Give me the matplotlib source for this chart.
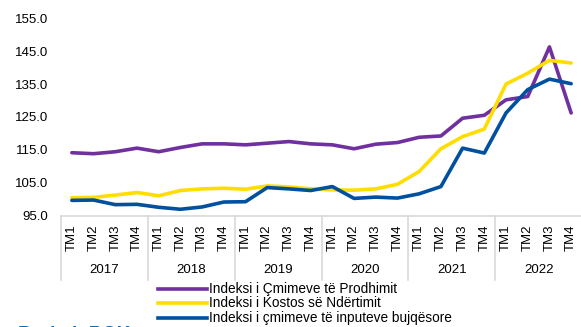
import numpy as np
import matplotlib
matplotlib.use("Agg")
import matplotlib.pyplot as plt
import matplotlib.transforms as mtransforms
from matplotlib.lines import Line2D

plt.rcParams["font.family"] = ["Liberation Sans", "DejaVu Sans"]

# Indekset tremujore 2017-2022
years = ["2017", "2018", "2019", "2020", "2021", "2022"]
quarters = ["TM1", "TM2", "TM3", "TM4"]

prodhimi = [114.1, 113.8, 114.4, 115.5, 114.4, 115.7, 116.8, 116.8,
            116.5, 117.0, 117.5, 116.8, 116.5, 115.3, 116.7, 117.2,
            118.8, 119.2, 124.6, 125.5, 130.2, 131.2, 146.3, 126.2]
ndertimi = [100.4, 100.5, 101.2, 102.0, 101.0, 102.6, 103.1, 103.3,
            103.0, 104.0, 103.7, 103.1, 102.8, 102.7, 103.1, 104.5,
            108.4, 115.3, 119.0, 121.3, 135.0, 138.3, 142.2, 141.4]
bujqesia = [99.6, 99.7, 98.3, 98.4, 97.5, 96.9, 97.6, 99.1,
            99.2, 103.5, 103.1, 102.6, 103.8, 100.2, 100.6, 100.3,
            101.6, 103.8, 115.5, 114.0, 126.2, 133.3, 136.5, 135.1]

seri = [
    ("Indeksi i Çmimeve të Prodhimit", prodhimi, "#7030A0"),
    ("Indeksi i Kostos së Ndërtimit", ndertimi, "#FFDD00"),
    ("Indeksi i çmimeve të inputeve bujqësore", bujqesia, "#0050A0"),
]

W, H = 581, 327
fig = plt.figure(figsize=(W / 100, H / 100), dpi=100)
ax = fig.add_axes([61 / W, 1 - 215.5 / H, 521 / W, 197.2 / H])

n = len(years) * len(quarters)
x = np.arange(n) + 0.5
for emri, vlera, ngjyra in seri:
    ax.plot(x, vlera, color=ngjyra, lw=2.6, solid_capstyle="round")

ax.set_xlim(0, n)
ax.set_ylim(95, 155)
ax.set_yticks(np.arange(95, 156, 10))
ax.set_yticklabels([f"{v:.1f}" for v in np.arange(95, 156, 10)], fontsize=9.5)
ax.tick_params(axis="y", length=0, pad=9)
ax.set_xticks([])
for s in ["left", "right", "top"]:
    ax.spines[s].set_visible(False)
ax.spines["bottom"].set_color("#D9D9D9")
ax.spines["bottom"].set_linewidth(1.2)

# boshti X me dy nivele: tremujori + viti
tr = mtransforms.blended_transform_factory(ax.transData, fig.transFigure)
def fy(py):
    return 1 - py / H

for i in range(n):
    fig.text(0, 0, quarters[i % 4], transform=tr, fontsize=9.5, rotation=90,
             ha="center", va="center", position=(x[i], fy(238)))
for k, vit in enumerate(years):
    fig.text(0, 0, vit, transform=tr, fontsize=9.5, ha="center", va="center",
             position=(k * 4 + 2, fy(270)))
for k in range(len(years) + 1):
    fig.add_artist(Line2D([k * 4, k * 4], [fy(215.5), fy(280)], transform=tr,
                          color="#D9D9D9", lw=1.2))

# legjenda
for j, (emri, vlera, ngjyra) in enumerate(seri):
    yy = fy(289 + j * 14.4)
    fig.add_artist(Line2D([158 / W, 207 / W], [yy, yy], color=ngjyra, lw=2.6))
    fig.text(209 / W, yy, emri, fontsize=9.8, va="center", ha="left")

# burimi (pjesërisht jashtë kornizës)
fig.text(18 / W, fy(334.5), "Burimi: BQK", fontsize=13.5, fontweight="bold",
         color="#0070C0", va="center", ha="left")

fig.savefig("out.png", dpi=100)
